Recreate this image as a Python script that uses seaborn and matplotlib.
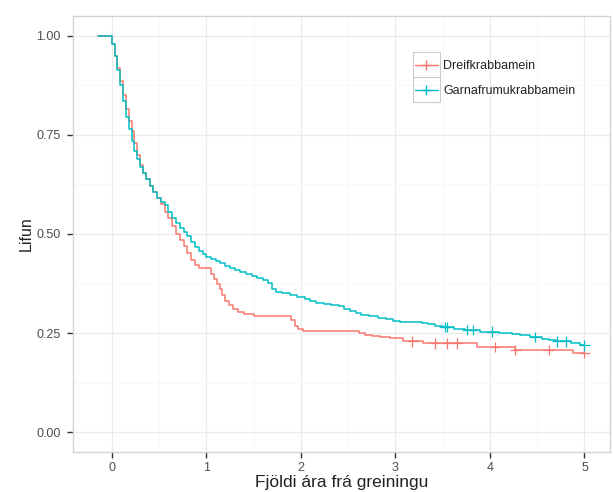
import numpy as np
import pandas as pd
import matplotlib
matplotlib.use("Agg")
import matplotlib.pyplot as plt
from matplotlib.lines import Line2D
from matplotlib.patches import Rectangle
import seaborn as sns

groups = ["Dreifkrabbamein", "Garnafrumukrabbamein"]
colors = ["#F8766D", "#00BFC4"]

red_t = [-0.15, 0.00, 0.03, 0.06, 0.09, 0.12, 0.15, 0.18, 0.21, 0.24, 0.27, 0.30,
         0.33, 0.36, 0.40, 0.44, 0.48, 0.52, 0.56, 0.60, 0.64, 0.68, 0.72, 0.76,
         0.80, 0.84, 0.88, 0.92, 1.05, 1.08, 1.11, 1.14, 1.17, 1.20, 1.24, 1.28,
         1.33, 1.40, 1.50, 1.90, 1.94, 1.97, 2.02, 2.62, 2.68, 2.75, 2.84, 2.94,
         3.08, 3.29, 3.86, 4.27, 4.88, 5.00]
red_s = [1.000, 0.980, 0.950, 0.920, 0.885, 0.850, 0.815, 0.785, 0.760, 0.730, 0.700, 0.675,
         0.655, 0.640, 0.622, 0.605, 0.590, 0.575, 0.555, 0.540, 0.520, 0.500, 0.485, 0.470,
         0.452, 0.435, 0.422, 0.413, 0.400, 0.386, 0.375, 0.362, 0.345, 0.332, 0.320, 0.310,
         0.303, 0.297, 0.293, 0.282, 0.268, 0.260, 0.256, 0.250, 0.246, 0.242, 0.240, 0.237,
         0.229, 0.224, 0.215, 0.207, 0.200, 0.200]
red_cens = [3.18, 3.42, 3.55, 3.65, 4.05, 4.27, 4.62, 5.00]

cyan_t = [-0.15, 0.00, 0.03, 0.06, 0.09, 0.12, 0.15, 0.18, 0.21, 0.24, 0.27, 0.30,
          0.33, 0.36, 0.40, 0.44, 0.48, 0.52, 0.56, 0.60, 0.64, 0.68, 0.72, 0.76,
          0.80, 0.84, 0.88, 0.92, 0.96, 1.00, 1.05, 1.10, 1.15, 1.20, 1.25, 1.30,
          1.36, 1.42, 1.48, 1.54, 1.60, 1.65, 1.70, 1.74, 1.80, 1.88, 1.96, 2.04,
          2.10, 2.16, 2.24, 2.32, 2.40, 2.46, 2.52, 2.58, 2.64, 2.72, 2.82, 2.90,
          2.98, 3.05, 3.28, 3.34, 3.42, 3.50, 3.62, 3.74, 3.90, 4.10, 4.23, 4.32,
          4.42, 4.55, 4.62, 4.70, 4.86, 4.95, 5.00]
cyan_s = [1.000, 0.980, 0.950, 0.915, 0.875, 0.835, 0.795, 0.765, 0.735, 0.710, 0.690, 0.670,
          0.655, 0.640, 0.620, 0.605, 0.592, 0.580, 0.572, 0.555, 0.540, 0.527, 0.515, 0.505,
          0.494, 0.480, 0.468, 0.458, 0.449, 0.443, 0.438, 0.433, 0.426, 0.420, 0.415, 0.410,
          0.405, 0.399, 0.394, 0.389, 0.383, 0.376, 0.362, 0.354, 0.350, 0.346, 0.341, 0.336,
          0.330, 0.326, 0.323, 0.320, 0.318, 0.312, 0.306, 0.300, 0.295, 0.292, 0.289, 0.285,
          0.281, 0.278, 0.276, 0.272, 0.268, 0.265, 0.261, 0.257, 0.254, 0.251, 0.248, 0.244,
          0.240, 0.236, 0.232, 0.229, 0.225, 0.221, 0.219]
cyan_cens = [3.52, 3.55, 3.76, 3.82, 4.02, 4.48, 4.71, 4.80, 5.00]

x_ticks = [0, 1, 2, 3, 4, 5]
y_ticks = [0.00, 0.25, 0.50, 0.75, 1.00]
x_label = "Fjöldi ára frá greiningu"
y_label = "Lifun"

sns.set_theme(style="white")
plt.rcParams['font.family'] = ['Liberation Sans', 'DejaVu Sans']

df = pd.concat([
    pd.DataFrame({"t": red_t, "S": red_s, "group": groups[0]}),
    pd.DataFrame({"t": cyan_t, "S": cyan_s, "group": groups[1]}),
], ignore_index=True)

def surv_at(ts, ss, c):
    idx = np.searchsorted(np.array(ts), np.array(c), side="right") - 1
    return np.array(ss)[idx]

cens = pd.concat([
    pd.DataFrame({"t": red_cens, "S": surv_at(red_t, red_s, red_cens), "group": groups[0]}),
    pd.DataFrame({"t": cyan_cens, "S": surv_at(cyan_t, cyan_s, cyan_cens), "group": groups[1]}),
], ignore_index=True)

fig = plt.figure(figsize=(6.13, 4.92), dpi=100)
ax = fig.add_axes([73/613, 1-452/492, 537/613, 436/492])

pal = dict(zip(groups, colors))
sns.lineplot(data=df, x="t", y="S", hue="group", palette=pal, drawstyle="steps-post",
             estimator=None, linewidth=1.1, legend=False, ax=ax)
sns.scatterplot(data=cens, x="t", y="S", hue="group", palette=pal, marker="+",
                s=55, linewidth=0.9, legend=False, ax=ax, zorder=3)

ax.set_xlim(-0.41, 5.27)
ax.set_ylim(-0.05, 1.05)
ax.set_xticks(x_ticks)
ax.set_xticklabels([str(v) for v in x_ticks])
ax.set_yticks(y_ticks)
ax.set_yticklabels([f"{v:.2f}" for v in y_ticks])
ax.set_xticks([0.5, 1.5, 2.5, 3.5, 4.5], minor=True)
ax.set_yticks([0.125, 0.375, 0.625, 0.875], minor=True)
ax.grid(True, which="major", color="#EBEBEB", linewidth=0.9)
ax.grid(True, which="minor", color="#F7F7F7", linewidth=0.6)
ax.set_axisbelow(True)
for sp in ax.spines.values():
    sp.set_color("#D4D4D4")
    sp.set_linewidth(1.0)
ax.tick_params(axis="y", which="major", pad=5)
ax.tick_params(axis="both", which="major", direction="out", length=4, width=1,
               color="#333333", labelsize=9, labelcolor="#4D4D4D",
               bottom=True, left=True)
ax.tick_params(axis="x", which="major", pad=3)
ax.tick_params(axis="both", which="minor", length=0)
ax.set_xlabel(x_label, fontsize=12.5, color="#222222", labelpad=1)
ax.set_ylabel(y_label, fontsize=11.5, color="#222222", labelpad=2)

handles = [Line2D([], [], color=c, marker="+", markersize=7, linewidth=1.0) for c in colors]
leg = ax.legend(handles, groups, loc="upper left", bbox_to_anchor=(0.637, 0.899),
                frameon=False, fontsize=9, handlelength=1.8, handletextpad=0.45,
                labelspacing=1.05, borderaxespad=0, borderpad=0.0)
for txt in leg.get_texts():
    txt.set_color("#222222")
for i in range(2):
    fig.patches.append(Rectangle((413/613, 1-(77+25*i)/492), 27/613, 25/492,
                                 transform=fig.transFigure, fill=False,
                                 edgecolor="#CCCCCC", linewidth=0.8, zorder=5))

fig.savefig("out.png", dpi=100)
